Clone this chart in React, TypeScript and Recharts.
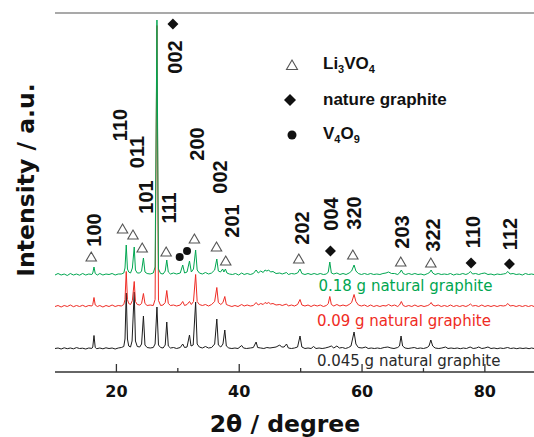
import React from 'react';
import { ComposedChart, Line, Scatter, XAxis, YAxis, ReferenceLine } from 'recharts';

// 2θ axis ticks
const twoThetaTicks = [20, 30, 40, 50, 60, 70, 80];
const majorTickLabels = [20, 40, 60, 80];

// Raw XRD scans [2θ, intensity (a.u.)]
const blackScan: [number, number][] = [
  [10.0, 0.5], [10.5, 1], [11.0, 0], [11.5, 1.2], [12.0, 0.3], [12.5, 1], [13.0, 0.2], [13.5, 1.4], [14.0, 0.5], [14.5, 0.8],
  [15.0, 0], [15.5, 1], [16.0, 0.6], [16.15, 2], [16.35, 13.5], [16.55, 1.5], [16.8, 0.3], [17.3, 1], [17.8, 0.2], [18.3, 1.2],
  [18.8, 0.5], [19.3, 1], [19.8, 0], [20.3, 1], [20.8, 1.5], [21.2, 2.5], [21.4, 10], [21.6, 56], [21.8, 10], [22.0, 3],
  [22.3, 2], [22.55, 8], [22.9, 57], [23.1, 8], [23.4, 2.5], [23.8, 2], [24.1, 5], [24.4, 33], [24.65, 4], [25.0, 1.5],
  [25.5, 1], [26.0, 1.5], [26.3, 5], [26.6, 42], [26.85, 4], [27.2, 1.5], [27.6, 1], [27.95, 4], [28.2, 27], [28.45, 3],
  [28.8, 1], [29.3, 1.5], [29.8, 0.5], [30.4, 1.5], [30.8, 5], [31.1, 1.5], [31.5, 2], [31.9, 14], [32.15, 3], [32.5, 4],
  [32.9, 47], [33.15, 5], [33.5, 2], [34.0, 1], [34.5, 2.5], [35.0, 1], [35.5, 1.5], [36.0, 5], [36.35, 30], [36.6, 4],
  [37.0, 2], [37.35, 5], [37.65, 19], [37.9, 3], [38.3, 1], [38.8, 0.5], [39.3, 1], [39.8, 0.5], [40.4, 3.5], [40.7, 1],
  [41.2, 0.5], [41.8, 1], [42.3, 1.5], [42.75, 7], [43.0, 1.5], [43.5, 1], [44.0, 0.5], [44.5, 1.5], [45.0, 1], [45.5, 1.5],
  [46.0, 2], [46.6, 4], [46.9, 2], [47.3, 2], [47.7, 5], [48.0, 1], [48.5, 0.5], [49.0, 1], [49.5, 2], [49.9, 13],
  [50.2, 2], [50.7, 0.5], [51.2, 1], [51.7, 0.5], [52.1, 2.5], [52.5, 0.5], [53.0, 1], [53.5, 0.5], [54.0, 1], [54.6, 2],
  [55.0, 3], [55.4, 1], [55.9, 3], [56.3, 1], [56.8, 1.5], [57.3, 0.5], [57.8, 1.5], [58.2, 3], [58.7, 17], [59.0, 5],
  [59.4, 1.5], [60.0, 1], [60.6, 2], [61.0, 0.5], [61.5, 1], [62.0, 0.5], [62.5, 1], [63.0, 0.5], [63.6, 1.5], [64.2, 2],
  [64.7, 1], [65.2, 0.5], [65.8, 1.5], [66.1, 3], [66.35, 13], [66.6, 3], [67.0, 1], [67.5, 0.5], [68.0, 1], [68.5, 1.5],
  [69.0, 0.5], [69.5, 1], [70.0, 0.5], [70.6, 1.5], [70.9, 3], [71.2, 9], [71.5, 3], [71.9, 1], [72.5, 0.5], [73.0, 1],
  [73.6, 2], [74.0, 0.5], [74.5, 1], [75.0, 0.5], [75.5, 1], [76.0, 0.3], [76.5, 1], [77.0, 0.5], [77.6, 2], [78.1, 0.5],
  [78.6, 1], [79.0, 2], [79.5, 0.5], [80.0, 1], [80.5, 2], [81.0, 0.5], [81.5, 1], [82.0, 0.3], [82.5, 1], [83.0, 0.5],
  [83.7, 1.5], [84.2, 0.5], [84.7, 1], [85.2, 0.3], [85.7, 1], [86.2, 0.5], [86.7, 1], [87.2, 0.3], [87.6, 1], [88.0, 0.5],
];

const redScan: [number, number][] = [
  [10.0, 1], [10.5, 2], [11.0, 0.5], [11.5, 2], [12.0, 1], [12.5, 2.5], [13.0, 0.8], [13.5, 2], [14.0, 1], [14.5, 2.2],
  [15.0, 0.8], [15.5, 2], [16.0, 1.5], [16.15, 3], [16.35, 10], [16.55, 2.5], [16.9, 1], [17.3, 2], [17.8, 0.5], [18.3, 2],
  [18.8, 1], [19.3, 2.5], [19.8, 1], [20.3, 2], [20.8, 1.5], [21.2, 3], [21.4, 8], [21.6, 36], [21.8, 8], [22.0, 4],
  [22.3, 3], [22.6, 7], [22.9, 26], [23.1, 6], [23.4, 3], [23.8, 2.5], [24.1, 4], [24.4, 14], [24.65, 4], [25.0, 2],
  [25.5, 2.5], [26.0, 2], [26.3, 8], [26.6, 282], [26.85, 7], [27.2, 2], [27.6, 2.5], [27.95, 5], [28.2, 17], [28.45, 4],
  [28.8, 2], [29.3, 2.5], [29.8, 1.5], [30.4, 2.5], [30.8, 6], [31.1, 2], [31.5, 3], [31.9, 6], [32.2, 3], [32.55, 6],
  [32.9, 33], [33.15, 6], [33.5, 3], [34.0, 2], [34.5, 3], [35.0, 1.5], [35.5, 3], [36.0, 6], [36.35, 20], [36.6, 5],
  [37.0, 3], [37.35, 5], [37.65, 11], [37.9, 3], [38.3, 2], [38.8, 1], [39.3, 2], [39.8, 1], [40.4, 3], [40.8, 1.5],
  [41.3, 2.5], [41.8, 1.5], [42.3, 2], [42.75, 5], [43.1, 2.5], [43.5, 4], [43.9, 3], [44.2, 5], [44.5, 4], [44.8, 5],
  [45.1, 3.5], [45.5, 4], [46.0, 2.5], [46.6, 3], [47.0, 2], [47.7, 3.5], [48.0, 1.5], [48.5, 2.5], [49.0, 1.5], [49.5, 3],
  [49.9, 8], [50.2, 2.5], [50.7, 1.5], [51.2, 2.5], [51.7, 1], [52.2, 2.5], [52.7, 1.5], [53.2, 2.5], [53.7, 1], [54.2, 2],
  [54.5, 4], [54.75, 11], [55.0, 3], [55.4, 1.5], [55.9, 3], [56.4, 1.5], [56.9, 2.5], [57.4, 1.5], [57.9, 3], [58.3, 5],
  [58.7, 13], [59.0, 6], [59.4, 2.5], [59.9, 1.5], [60.4, 2.5], [60.9, 1], [61.4, 2.5], [61.9, 1], [62.4, 2], [62.9, 1],
  [63.4, 2], [63.9, 1.5], [64.3, 3], [64.8, 1.5], [65.3, 2.5], [65.8, 1], [66.1, 2.5], [66.4, 6], [66.7, 2], [67.1, 1],
  [67.6, 2], [68.1, 1], [68.6, 2.5], [69.1, 1], [69.6, 2], [70.1, 1], [70.7, 2], [71.0, 3], [71.25, 5], [71.5, 2.5],
  [71.9, 1.5], [72.4, 2.5], [72.9, 1], [73.4, 2], [73.9, 1], [74.4, 2.5], [74.9, 1], [75.4, 2], [75.9, 1], [76.4, 2],
  [76.9, 1], [77.3, 2], [77.65, 3.5], [78.0, 1.5], [78.5, 2], [79.0, 1], [79.5, 2.5], [80.0, 1], [80.5, 2], [81.0, 1],
  [81.5, 2], [82.0, 1], [82.5, 2], [83.0, 1.5], [83.4, 2], [83.75, 4], [84.1, 1.5], [84.6, 2], [85.1, 1], [85.6, 2],
  [86.1, 1], [86.6, 2], [87.1, 1], [87.6, 2], [88.0, 1],
];

const greenScan: [number, number][] = [
  [10.0, 1], [10.5, 2.5], [11.0, 1], [11.5, 2], [12.0, 0.5], [12.5, 2.5], [13.0, 1], [13.5, 2], [14.0, 0.8], [14.5, 2.5],
  [15.0, 1], [15.5, 2], [16.0, 1.5], [16.15, 3], [16.35, 9], [16.55, 2.5], [16.9, 1], [17.3, 2.5], [17.8, 1], [18.3, 2],
  [18.8, 1.5], [19.3, 2.5], [19.8, 1], [20.3, 2], [20.8, 2], [21.2, 3], [21.4, 8], [21.6, 31], [21.8, 7], [22.0, 4],
  [22.3, 3], [22.6, 8], [22.9, 29], [23.1, 6], [23.4, 3], [23.8, 3], [24.1, 5], [24.4, 18], [24.65, 4], [25.0, 2.5],
  [25.5, 2], [26.0, 3], [26.3, 9], [26.6, 256], [26.85, 7], [27.2, 2.5], [27.6, 2], [27.95, 5], [28.2, 16], [28.45, 4],
  [28.8, 2], [29.3, 3], [29.8, 2], [30.4, 3], [30.8, 11], [31.1, 3], [31.5, 4], [31.9, 15], [32.2, 4], [32.55, 7],
  [32.9, 26], [33.15, 6], [33.5, 3], [34.0, 2], [34.5, 3.5], [35.0, 2], [35.5, 3], [36.0, 6], [36.35, 17], [36.6, 5],
  [36.95, 4], [37.3, 7], [37.5, 4], [37.75, 7], [38.0, 3], [38.4, 2], [38.9, 1.5], [39.4, 2.5], [39.9, 1], [40.4, 3],
  [40.8, 1.5], [41.3, 2.5], [41.8, 1.5], [42.3, 2.5], [42.75, 6], [43.1, 3], [43.5, 5], [43.9, 3.5], [44.2, 6], [44.5, 5],
  [44.8, 6], [45.1, 4], [45.5, 4.5], [46.0, 2.5], [46.6, 3], [47.0, 2], [47.7, 3.5], [48.0, 1.5], [48.5, 2.5], [49.0, 2],
  [49.5, 3], [49.9, 7], [50.2, 2.5], [50.7, 1.5], [51.2, 2.5], [51.7, 1.5], [52.2, 2.5], [52.7, 1.5], [53.2, 2.5], [53.7, 1.5],
  [54.2, 2], [54.5, 4], [54.75, 14], [55.0, 3], [55.4, 2], [55.9, 3], [56.4, 1.5], [56.9, 2.5], [57.4, 1.5], [57.9, 3],
  [58.3, 5], [58.7, 11], [59.0, 5], [59.4, 2.5], [59.9, 1.5], [60.4, 2.5], [60.9, 1.5], [61.4, 2.5], [61.9, 1.5], [62.4, 2],
  [62.9, 1.5], [63.4, 2.5], [63.9, 3], [64.3, 4], [64.8, 2.5], [65.3, 2.5], [65.8, 1.5], [66.1, 3], [66.4, 6], [66.7, 2.5],
  [67.1, 1.5], [67.6, 2.5], [68.1, 1.5], [68.6, 2.5], [69.1, 1.5], [69.6, 2], [70.1, 1], [70.7, 2.5], [71.0, 3.5], [71.25, 6],
  [71.5, 3], [71.9, 1.5], [72.4, 2.5], [72.9, 1.5], [73.4, 2], [73.9, 1.5], [74.4, 2.5], [74.9, 1], [75.4, 2], [75.9, 1.5],
  [76.4, 2.5], [76.9, 1.5], [77.3, 2.5], [77.65, 4.5], [78.0, 2], [78.5, 2.5], [79.0, 1.5], [79.5, 2.5], [80.0, 3], [80.5, 1.5],
  [81.0, 2], [81.5, 1], [82.0, 2], [82.5, 1.5], [83.0, 2], [83.4, 2.5], [83.75, 4.5], [84.1, 2], [84.6, 2.5], [85.1, 1.5],
  [85.6, 2], [86.1, 1], [86.6, 2.5], [87.1, 1.5], [87.6, 2], [88.0, 1.5],
];

// vertical stacking offsets of the three scans
const scanOffsets = { black: 23, red: 64.5, green: 96 };

// Phase markers [2θ, intensity level]
const li3vo4Marks: [number, number][] = [
  [15.9, 115], [21.0, 143], [22.7, 137], [24.2, 124], [28.1, 120], [32.7, 133],
  [36.3, 125], [37.8, 111], [49.7, 113], [58.5, 117], [66.3, 110], [71.2, 109],
];
const graphiteMarks: [number, number][] = [[29.2, 348], [54.85, 121], [77.75, 109], [84.0, 108]];
const v4o9Marks: [number, number][] = [[30.3, 115], [31.5, 121]];

// Miller index labels [2θ, intensity level, text]
const peakLabels: [number, number, string][] = [
  [16.3, 142, '100'], [20.6, 247, '110'], [23.4, 220, '011'], [24.8, 175, '101'], [28.5, 164, '111'],
  [29.6, 315, '002'], [33.1, 228, '200'], [36.8, 195, '002'], [38.9, 151, '201'], [50.3, 144, '202'],
  [55.0, 158, '004'], [58.7, 159, '320'], [66.5, 140, '203'], [71.5, 137, '322'], [78.1, 140, '110'], [84.1, 138, '112'],
];

// Sample labels [2θ, intensity level, text]
const sampleLabels: [number, number, string][] = [
  [52.9, 81, '0.18 g natural graphite'],
  [52.65, 46, '0.09 g natural graphite'],
  [52.65, 6.5, '0.045 g natural graphite'],
];

const legendLabels = ['nature graphite'];

const COLORS = { black: '#1c1c1c', red: '#ef2b24', green: '#00a650', blackText: '#2a2a2a' };
const sampleColors = [COLORS.green, COLORS.red, COLORS.blackText];

const toSeries = (scan: [number, number][], offset: number) => scan.map(([x, v]) => ({ x, y: v + offset }));
const toPoints = (m: [number, number][]) => m.map(([x, y]) => ({ x, y }));

const TriangleMark = (p: any) => (
  <path d={`M${p.cx},${p.cy - 5} L${p.cx + 5.2},${p.cy + 4} L${p.cx - 5.2},${p.cy + 4} Z`} fill="#fff" stroke="#555" strokeWidth={1.1} />
);
const DiamondMark = (p: any) => (
  <path d={`M${p.cx},${p.cy - 5.5} L${p.cx + 5.5},${p.cy} L${p.cx},${p.cy + 5.5} L${p.cx - 5.5},${p.cy} Z`} fill="#111" />
);
const CircleMark = (p: any) => <circle cx={p.cx} cy={p.cy} r={4} fill="#111" />;

const PeakLabel = (p: any) => (
  <text
    x={p.cx}
    y={p.cy}
    transform={`rotate(-90 ${p.cx} ${p.cy})`}
    textAnchor="middle"
    dominantBaseline="central"
    fontFamily="'Liberation Sans', Arial, sans-serif"
    fontWeight="bold"
    fontSize={20}
    fill="#111"
  >
    {p.payload.label}
  </text>
);

const SampleLabel = (p: any) => (
  <text x={p.cx} y={p.cy} textAnchor="start" fontFamily="'DejaVu Sans', sans-serif" fontSize={15} fill={p.payload.color}>
    {p.payload.label}
  </text>
);

const TwoThetaTick = (props: any) => {
  const { x, y, payload } = props;
  const major = majorTickLabels.includes(payload.value);
  return (
    <g>
      <line x1={x} x2={x} y1={y} y2={y - (major ? 8 : 4)} stroke="#333" strokeWidth={1.3} />
      {major && (
        <text x={x} y={y + 25} textAnchor="middle" fontFamily="'DejaVu Sans', sans-serif" fontWeight="bold" fontSize={16} fill="#111">
          {payload.value}
        </text>
      )}
    </g>
  );
};

const legendFont: React.CSSProperties = { fontFamily: "'Liberation Sans', Arial, sans-serif", fontWeight: 'bold', fontSize: 17, color: '#111' };
const subStyle: React.CSSProperties = { fontSize: 11, verticalAlign: -4 };

const LegendBox = () => (
  <div style={{ position: 'absolute', left: 280, top: 47, ...legendFont }}>
    <div style={{ display: 'flex', alignItems: 'center', height: 35 }}>
      <svg width={24} height={20}><path d="M12,5 L17.5,14.5 L6.5,14.5 Z" fill="#fff" stroke="#555" strokeWidth={1.1} /></svg>
      <span style={{ marginLeft: 19 }}>Li<sub style={subStyle}>3</sub>VO<sub style={subStyle}>4</sub></span>
    </div>
    <div style={{ display: 'flex', alignItems: 'center', height: 35 }}>
      <svg width={24} height={20}><path d="M10,4 L16,10 L10,16 L4,10 Z" fill="#111" /></svg>
      <span style={{ marginLeft: 19 }}>{legendLabels[0]}</span>
    </div>
    <div style={{ display: 'flex', alignItems: 'center', height: 35 }}>
      <svg width={24} height={20}><circle cx={12} cy={10} r={4.5} fill="#111" /></svg>
      <span style={{ marginLeft: 19 }}>V<sub style={subStyle}>4</sub>O<sub style={subStyle}>9</sub></span>
    </div>
  </div>
);

export default function App() {
  const blackData = toSeries(blackScan, scanOffsets.black);
  const redData = toSeries(redScan, scanOffsets.red);
  const greenData = toSeries(greenScan, scanOffsets.green);
  const labelData = peakLabels.map(([x, y, label]) => ({ x, y, label }));
  const sampleData = sampleLabels.map(([x, y, label], i) => ({ x, y, label, color: sampleColors[i] }));

  return (
    <div style={{ position: 'absolute', left: 0, top: 0, width: 534, height: 437, background: '#fff' }}>
      <ComposedChart width={534} height={437} margin={{ top: 13, right: 0, bottom: 0, left: 55 }}>
        <XAxis
          type="number"
          dataKey="x"
          domain={[10, 88]}
          allowDataOverflow
          ticks={twoThetaTicks}
          tick={<TwoThetaTick />}
          tickLine={false}
          tickSize={0}
          tickMargin={0}
          height={65}
          axisLine={{ stroke: '#333', strokeWidth: 1.4 }}
        />
        <YAxis
          type="number"
          dataKey="y"
          domain={[0, 359]}
          allowDataOverflow
          width={0}
          tick={false}
          tickLine={false}
          axisLine={{ stroke: '#333', strokeWidth: 1.4 }}
        />
        <ReferenceLine y={359} stroke="#555" strokeWidth={1.2} />
        <Line data={blackData} dataKey="y" stroke={COLORS.black} strokeWidth={1} dot={false} activeDot={false} isAnimationActive={false} />
        <Line data={redData} dataKey="y" stroke={COLORS.red} strokeWidth={1} dot={false} activeDot={false} isAnimationActive={false} />
        <Line data={greenData} dataKey="y" stroke={COLORS.green} strokeWidth={1} dot={false} activeDot={false} isAnimationActive={false} />
        <Scatter data={toPoints(li3vo4Marks)} shape={TriangleMark} isAnimationActive={false} />
        <Scatter data={toPoints(graphiteMarks)} shape={DiamondMark} isAnimationActive={false} />
        <Scatter data={toPoints(v4o9Marks)} shape={CircleMark} isAnimationActive={false} />
        <Scatter data={labelData} shape={PeakLabel} isAnimationActive={false} />
        <Scatter data={sampleData} shape={SampleLabel} isAnimationActive={false} />
        <text x={285} y={431.5} textAnchor="middle" fontFamily="'DejaVu Sans', sans-serif" fontWeight="bold" fontSize={23.5} fill="#111">
          2θ / degree
        </text>
        <text
          x={25.5}
          y={180}
          transform="rotate(-90 25.5 180)"
          textAnchor="middle"
          dominantBaseline="central"
          fontFamily="'DejaVu Sans', sans-serif"
          fontWeight="bold"
          fontSize={23.5}
          fill="#111"
        >
          Intensity / a.u.
        </text>
      </ComposedChart>
      <LegendBox />
    </div>
  );
}
